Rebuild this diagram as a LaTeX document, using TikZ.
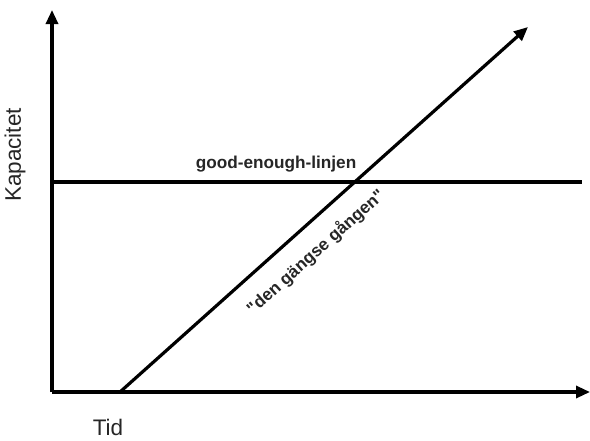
\documentclass[tikz,border=0pt]{standalone}
\usepackage{fontspec}
\setmainfont{Liberation Sans}
\usetikzlibrary{arrows.meta}
\begin{document}
\begin{tikzpicture}[x=1pt,y=-1pt,
  ln/.style={line width=3.2pt},
  arr/.style={ln,-{Triangle[length=14pt,width=12pt]}},
  lbl/.style={font=\fontsize{17.2}{19}\selectfont\bfseries,text=black!85},
  axl/.style={font=\fontsize{22.5}{25}\selectfont,text=black!85}]
\useasboundingbox[fill=white] (0,0) rectangle (590,440);
\coordinate (O) at (52,392);
\coordinate (Ytop) at (52,10);
\coordinate (Xend) at (590,392);
\coordinate (Hl) at (52,182);
\coordinate (Hr) at (582,182);
\coordinate (Ds) at (120,392);
\coordinate (De) at (528,27);
\draw[arr] (O) -- (Ytop);
\draw[arr] (O) -- (Xend);
\draw[ln] (Hl) -- (Hr);
\draw[arr] (Ds) -- (De);
\node[lbl] (good) at (276,164) {good-enough-linjen};
\node[lbl, rotate=41.8] (gang) at (316,252) {\textquotedbl den gängse gången\textquotedbl};
\node[axl, rotate=90] (kap) at (15,155) {Kapacitet};
\node[axl] (tid) at (108,427) {Tid};
\end{tikzpicture}
\end{document}
